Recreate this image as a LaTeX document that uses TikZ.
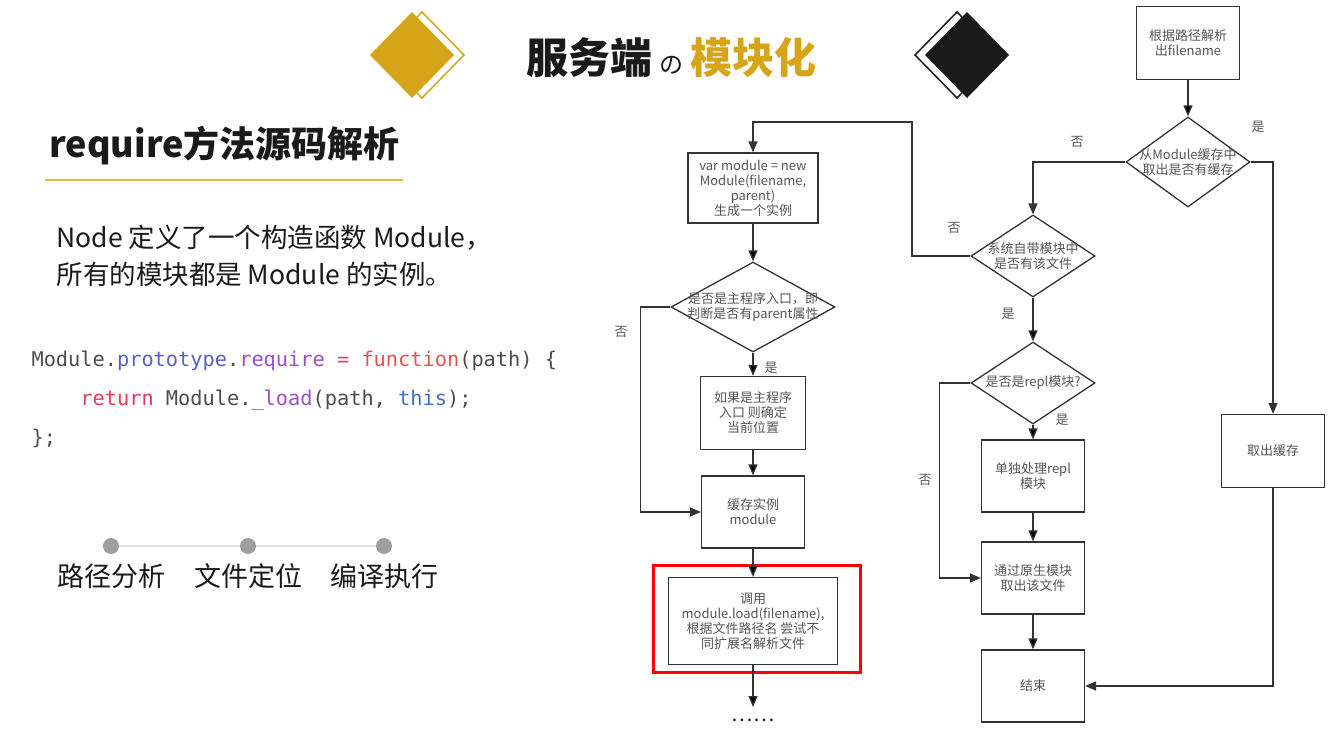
\documentclass[tikz,border=0pt]{standalone}
\usepackage{fontspec}
\setmainfont{Noto Sans CJK SC}
\newfontfamily\codefont{DejaVu Sans Mono}
\usetikzlibrary{shapes.geometric,arrows.meta,positioning}

\definecolor{gold}{RGB}{214,164,24}
\definecolor{rulegold}{RGB}{232,184,74}
\definecolor{ink}{RGB}{26,26,26}
\definecolor{linegray}{RGB}{51,51,51}
\definecolor{flowtext}{RGB}{85,85,85}
\definecolor{cplain}{RGB}{77,77,77}
\definecolor{cproto}{RGB}{91,95,199}
\definecolor{cprop}{RGB}{156,79,201}
\definecolor{cop}{RGB}{224,69,106}
\definecolor{cfunc}{RGB}{232,83,79}
\definecolor{cret}{RGB}{224,64,95}
\definecolor{cthis}{RGB}{61,111,201}

\begin{document}
\begin{tikzpicture}[x=1pt,y=-1pt,
    box/.style={draw=linegray, line width=1.3pt, text=flowtext, font=\fontsize{13}{15}\selectfont, align=center, inner sep=2pt},
    decision/.style={diamond, draw=linegray, line width=1.3pt, inner sep=0pt},
    dtext/.style={text=flowtext, font=\fontsize{13}{15}\selectfont, align=center},
    link/.style={draw=linegray, line width=1.3pt, -{Triangle[length=11pt,width=9pt]}},
    yn/.style={text=flowtext, font=\fontsize{13}{15}\selectfont},
    dot/.style={circle, fill=gray!75, minimum size=16pt, inner sep=0pt},
    step label/.style={text=ink, font=\fontsize{27}{27}\selectfont},
  ]
  \useasboundingbox (0,0) rectangle (1340,732);
  \fill[white] (0,0) rectangle (1340,732);

  % title
  \draw[gold, line width=1.5pt] (422,12) -- (464,55) -- (422,98) -- (380,55) -- cycle;
  \fill[gold] (412,12) -- (454,55) -- (412,98) -- (370,55) -- cycle;
  \draw[ink, line width=1.5pt] (957,12) -- (999,55) -- (957,98) -- (915,55) -- cycle;
  \fill[ink] (967,12) -- (1009,55) -- (967,98) -- (925,55) -- cycle;
  \node[text=ink, font=\fontsize{42}{42}\selectfont\bfseries] (title) at (671,57)
    {服务端\,{\fontsize{24}{24}\selectfont\mdseries の}\,\textcolor{gold}{模块化}};

  % left column
  \node[anchor=west, text=ink, font=\fontsize{36}{36}\selectfont\bfseries] (head) at (46,146) {require方法源码解析};
  \draw[rulegold, line width=1.5pt] (45,180) -- (403,180);
  \node[anchor=west, text=ink, align=left, font=\fontsize{26.5}{37}\selectfont] (intro) at (53,256)
    {Node 定义了一个构造函数 Module，\\所有的模块都是 Module 的实例。};
  \node[anchor=west, align=left, text=cplain, font=\codefont\fontsize{20.3}{39}\selectfont] (code) at (28,399)
    {Module.\textcolor{cproto}{prototype}.\textcolor{cprop}{require} \textcolor{cop}{=} \textcolor{cfunc}{function}(path) \{\\
     \phantom{0000}\textcolor{cret}{return} Module.\textcolor{cprop}{\_load}(path, \textcolor{cthis}{this});\\
     \};};

  \node[dot] (p1) at (111,546) {};
  \node[dot] (p2) at (248,546) {};
  \node[dot] (p3) at (384,546) {};
  \draw[gray!25, line width=2pt] (p1) -- (p2) -- (p3);
  \node[step label] (s1) at (111,576) {路径分析};
  \node[step label] (s2) at (248,576) {文件定位};
  \node[step label] (s3) at (384,576) {编译执行};

  % flowchart, left branch
  \node[box, minimum width=130pt, minimum height=70pt] (A) at (753,188)
    {var module = new\\Module(filename,\\parent)\\生成一个实例};
  \node[decision, minimum width=164pt, minimum height=90pt,
    label={[dtext]center:{是否是主程序入口，即\\判断是否有parent属性}}] (B) at (753,307) {};
  \node[box, minimum width=105pt, minimum height=73pt] (C) at (753,413) {如果是主程序\\入口 则确定\\当前位置};
  \node[box, minimum width=103pt, minimum height=72pt] (D) at (753,512) {缓存实例\\module};
  \node[box, minimum width=169pt, minimum height=87pt] (E) at (753,621)
    {调用\\module.load(filename),\\根据文件路径名 尝试不\\同扩展名解析文件};
  \node[draw=red, line width=3pt, minimum width=207pt, minimum height=107pt] (mark) at (757,619) {};
  \node[text=ink, font=\fontsize{20}{20}\selectfont] (more) at (753,720) {……};
  \coordinate (tail) at (753,707);

  % flowchart, right branch
  \node[box, minimum width=103pt, minimum height=73pt] (F) at (1188,43) {根据路径解析\\出filename};
  \node[decision, minimum width=124pt, minimum height=90pt,
    label={[dtext]center:{从Module缓存中\\取出是否有缓存}}] (G) at (1188,162) {};
  \node[decision, minimum width=124pt, minimum height=82pt,
    label={[dtext]center:{系统自带模块中\\是否有该文件}}] (H) at (1033,256) {};
  \node[decision, minimum width=124pt, minimum height=82pt,
    label={[dtext]center:{是否是repl模块?}}] (I) at (1033,383) {};
  \node[box, minimum width=103pt, minimum height=72pt] (J) at (1033,476) {单独处理repl\\模块};
  \node[box, minimum width=103pt, minimum height=72pt] (K) at (1033,578) {通过原生模块\\取出该文件};
  \node[box, minimum width=103pt, minimum height=72pt] (L) at (1033,686) {结束};
  \node[box, minimum width=103pt, minimum height=73pt] (M) at (1273,451) {取出缓存};
  \coordinate (back) at (912,122);

  \path[link] (A) edge (B);
  \path[link] (B) edge (C);
  \path[link] (C) edge (D);
  \path[link] (D) edge (E);
  \path[link] (E) edge (tail);
  \draw[link] (B.west) -- ++(-30,0) |- (D.west);

  \path[link] (F) edge (G);
  \draw[link] (G.east) -| (M.north);
  \draw[link] (G.west) -| (H.north);
  \draw[link] (H.west) -| (back) -| (A.north);
  \path[link] (H) edge (I);
  \path[link] (I) edge (J);
  \draw[link] (I.west) -- ++(-31,0) |- (K.west);
  \path[link] (J) edge (K);
  \path[link] (K) edge (L);
  \draw[link] (M.south) |- (L.east);

  % branch labels
  \node[yn] (n1) at (621,332) {否};
  \node[yn] (y1) at (771,368) {是};
  \node[yn] (y2) at (1258,127) {是};
  \node[yn] (n2) at (1077,142) {否};
  \node[yn] (n3) at (954,228) {否};
  \node[yn] (y3) at (1008,314) {是};
  \node[yn] (y4) at (1062,420) {是};
  \node[yn] (n4) at (925,480) {否};
\end{tikzpicture}
\end{document}
